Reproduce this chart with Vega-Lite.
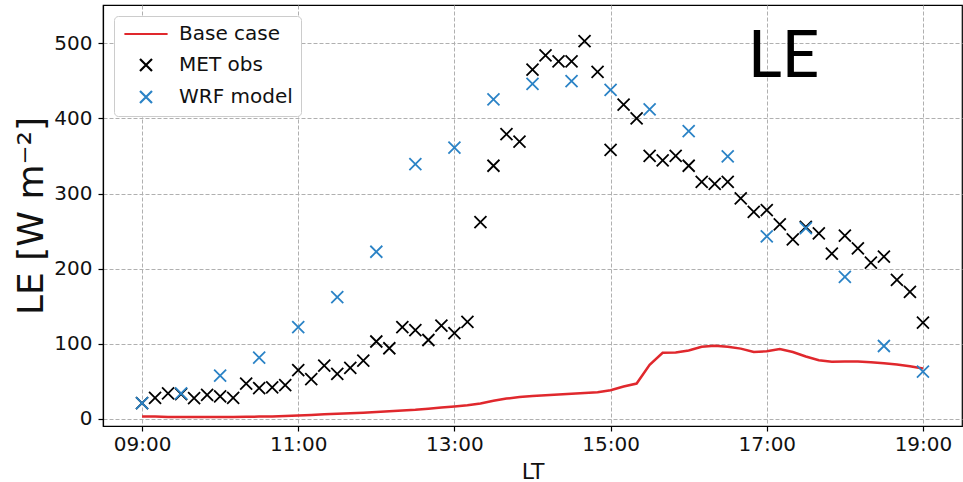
{
  "$schema": "https://vega.github.io/schema/vega-lite/v6.json",
  "width": 859,
  "height": 421,
  "autosize": {"type": "none"},
  "padding": {"left": 103, "top": 5, "right": 1, "bottom": 56},
  "background": "white",
  "config": {
    "font": "DejaVu Sans",
    "view": {"stroke": "black", "strokeWidth": 1.2},
    "axis": {
      "domainColor": "black",
      "domainWidth": 1.2,
      "tickColor": "black",
      "tickWidth": 1.2,
      "tickSize": 5,
      "labelColor": "#111111",
      "labelFontSize": 20,
      "labelFont": "DejaVu Sans",
      "gridColor": "#b0b0b0",
      "gridDash": [4, 2],
      "gridWidth": 1,
      "titleFont": "DejaVu Sans",
      "titleFontWeight": "normal",
      "titleColor": "#111111"
    },
    "legend": {
      "labelFont": "DejaVu Sans",
      "labelFontSize": 20,
      "labelColor": "#111111"
    }
  },
  "datasets": {
    "base": [
      {"time": "09:00", "value": 3, "series": "Base case"},
      {"time": "09:10", "value": 3, "series": "Base case"},
      {"time": "09:20", "value": 2.5, "series": "Base case"},
      {"time": "09:30", "value": 2.5, "series": "Base case"},
      {"time": "09:40", "value": 2.5, "series": "Base case"},
      {"time": "09:50", "value": 2.5, "series": "Base case"},
      {"time": "10:00", "value": 2.5, "series": "Base case"},
      {"time": "10:10", "value": 2.5, "series": "Base case"},
      {"time": "10:20", "value": 2.8, "series": "Base case"},
      {"time": "10:30", "value": 3, "series": "Base case"},
      {"time": "10:40", "value": 3.3, "series": "Base case"},
      {"time": "10:50", "value": 3.8, "series": "Base case"},
      {"time": "11:00", "value": 4.5, "series": "Base case"},
      {"time": "11:10", "value": 5.2, "series": "Base case"},
      {"time": "11:20", "value": 6, "series": "Base case"},
      {"time": "11:30", "value": 6.8, "series": "Base case"},
      {"time": "11:40", "value": 7.5, "series": "Base case"},
      {"time": "11:50", "value": 8.2, "series": "Base case"},
      {"time": "12:00", "value": 9, "series": "Base case"},
      {"time": "12:10", "value": 10, "series": "Base case"},
      {"time": "12:20", "value": 11, "series": "Base case"},
      {"time": "12:30", "value": 12, "series": "Base case"},
      {"time": "12:40", "value": 13.5, "series": "Base case"},
      {"time": "12:50", "value": 15, "series": "Base case"},
      {"time": "13:00", "value": 16.5, "series": "Base case"},
      {"time": "13:10", "value": 18, "series": "Base case"},
      {"time": "13:20", "value": 20.5, "series": "Base case"},
      {"time": "13:30", "value": 24, "series": "Base case"},
      {"time": "13:40", "value": 27, "series": "Base case"},
      {"time": "13:50", "value": 29, "series": "Base case"},
      {"time": "14:00", "value": 30.5, "series": "Base case"},
      {"time": "14:10", "value": 31.5, "series": "Base case"},
      {"time": "14:20", "value": 32.5, "series": "Base case"},
      {"time": "14:30", "value": 33.5, "series": "Base case"},
      {"time": "14:40", "value": 34.5, "series": "Base case"},
      {"time": "14:50", "value": 35.5, "series": "Base case"},
      {"time": "15:00", "value": 38, "series": "Base case"},
      {"time": "15:10", "value": 43, "series": "Base case"},
      {"time": "15:20", "value": 47, "series": "Base case"},
      {"time": "15:30", "value": 72, "series": "Base case"},
      {"time": "15:40", "value": 88, "series": "Base case"},
      {"time": "15:50", "value": 88.5, "series": "Base case"},
      {"time": "16:00", "value": 91, "series": "Base case"},
      {"time": "16:10", "value": 96, "series": "Base case"},
      {"time": "16:20", "value": 97.5, "series": "Base case"},
      {"time": "16:30", "value": 96, "series": "Base case"},
      {"time": "16:40", "value": 93.5, "series": "Base case"},
      {"time": "16:50", "value": 89, "series": "Base case"},
      {"time": "17:00", "value": 90, "series": "Base case"},
      {"time": "17:10", "value": 93, "series": "Base case"},
      {"time": "17:20", "value": 89, "series": "Base case"},
      {"time": "17:30", "value": 83, "series": "Base case"},
      {"time": "17:40", "value": 78, "series": "Base case"},
      {"time": "17:50", "value": 76, "series": "Base case"},
      {"time": "18:00", "value": 76.5, "series": "Base case"},
      {"time": "18:10", "value": 76.5, "series": "Base case"},
      {"time": "18:20", "value": 75.5, "series": "Base case"},
      {"time": "18:30", "value": 74, "series": "Base case"},
      {"time": "18:40", "value": 72.5, "series": "Base case"},
      {"time": "18:50", "value": 70, "series": "Base case"},
      {"time": "19:00", "value": 67, "series": "Base case"}
    ],
    "points": [
      {"time": "09:00", "value": 21, "series": "MET obs"},
      {"time": "09:10", "value": 28, "series": "MET obs"},
      {"time": "09:20", "value": 34, "series": "MET obs"},
      {"time": "09:30", "value": 33, "series": "MET obs"},
      {"time": "09:40", "value": 27.5, "series": "MET obs"},
      {"time": "09:50", "value": 32, "series": "MET obs"},
      {"time": "10:00", "value": 30, "series": "MET obs"},
      {"time": "10:10", "value": 28, "series": "MET obs"},
      {"time": "10:20", "value": 47, "series": "MET obs"},
      {"time": "10:30", "value": 41, "series": "MET obs"},
      {"time": "10:40", "value": 42, "series": "MET obs"},
      {"time": "10:50", "value": 45, "series": "MET obs"},
      {"time": "11:00", "value": 65, "series": "MET obs"},
      {"time": "11:10", "value": 53, "series": "MET obs"},
      {"time": "11:20", "value": 71, "series": "MET obs"},
      {"time": "11:30", "value": 60, "series": "MET obs"},
      {"time": "11:40", "value": 68, "series": "MET obs"},
      {"time": "11:50", "value": 77.5, "series": "MET obs"},
      {"time": "12:00", "value": 103, "series": "MET obs"},
      {"time": "12:10", "value": 94, "series": "MET obs"},
      {"time": "12:20", "value": 122, "series": "MET obs"},
      {"time": "12:30", "value": 118, "series": "MET obs"},
      {"time": "12:40", "value": 105, "series": "MET obs"},
      {"time": "12:50", "value": 124, "series": "MET obs"},
      {"time": "13:00", "value": 114, "series": "MET obs"},
      {"time": "13:10", "value": 129, "series": "MET obs"},
      {"time": "13:20", "value": 262, "series": "MET obs"},
      {"time": "13:30", "value": 337, "series": "MET obs"},
      {"time": "13:40", "value": 379, "series": "MET obs"},
      {"time": "13:50", "value": 369, "series": "MET obs"},
      {"time": "14:00", "value": 465, "series": "MET obs"},
      {"time": "14:10", "value": 484, "series": "MET obs"},
      {"time": "14:20", "value": 476, "series": "MET obs"},
      {"time": "14:30", "value": 476, "series": "MET obs"},
      {"time": "14:40", "value": 503, "series": "MET obs"},
      {"time": "14:50", "value": 462, "series": "MET obs"},
      {"time": "15:00", "value": 358, "series": "MET obs"},
      {"time": "15:10", "value": 418.5, "series": "MET obs"},
      {"time": "15:20", "value": 400, "series": "MET obs"},
      {"time": "15:30", "value": 350, "series": "MET obs"},
      {"time": "15:40", "value": 344, "series": "MET obs"},
      {"time": "15:50", "value": 350, "series": "MET obs"},
      {"time": "16:00", "value": 337, "series": "MET obs"},
      {"time": "16:10", "value": 315.5, "series": "MET obs"},
      {"time": "16:20", "value": 313, "series": "MET obs"},
      {"time": "16:30", "value": 315.5, "series": "MET obs"},
      {"time": "16:40", "value": 293.5, "series": "MET obs"},
      {"time": "16:50", "value": 275.5, "series": "MET obs"},
      {"time": "17:00", "value": 278, "series": "MET obs"},
      {"time": "17:10", "value": 259, "series": "MET obs"},
      {"time": "17:20", "value": 239, "series": "MET obs"},
      {"time": "17:30", "value": 255.5, "series": "MET obs"},
      {"time": "17:40", "value": 247, "series": "MET obs"},
      {"time": "17:50", "value": 220, "series": "MET obs"},
      {"time": "18:00", "value": 244, "series": "MET obs"},
      {"time": "18:10", "value": 227, "series": "MET obs"},
      {"time": "18:20", "value": 208, "series": "MET obs"},
      {"time": "18:30", "value": 216, "series": "MET obs"},
      {"time": "18:40", "value": 185, "series": "MET obs"},
      {"time": "18:50", "value": 169, "series": "MET obs"},
      {"time": "19:00", "value": 128, "series": "MET obs"},
      {"time": "09:00", "value": 21, "series": "WRF model"},
      {"time": "09:30", "value": 34, "series": "WRF model"},
      {"time": "10:00", "value": 57.5, "series": "WRF model"},
      {"time": "10:30", "value": 81.5, "series": "WRF model"},
      {"time": "11:00", "value": 122, "series": "WRF model"},
      {"time": "11:30", "value": 162, "series": "WRF model"},
      {"time": "12:00", "value": 222.5, "series": "WRF model"},
      {"time": "12:30", "value": 339, "series": "WRF model"},
      {"time": "13:00", "value": 361, "series": "WRF model"},
      {"time": "13:30", "value": 425.5, "series": "WRF model"},
      {"time": "14:00", "value": 446, "series": "WRF model"},
      {"time": "14:30", "value": 449.5, "series": "WRF model"},
      {"time": "15:00", "value": 438, "series": "WRF model"},
      {"time": "15:30", "value": 412, "series": "WRF model"},
      {"time": "16:00", "value": 383, "series": "WRF model"},
      {"time": "16:30", "value": 349.5, "series": "WRF model"},
      {"time": "17:00", "value": 243, "series": "WRF model"},
      {"time": "17:30", "value": 254, "series": "WRF model"},
      {"time": "18:00", "value": 189, "series": "WRF model"},
      {"time": "18:30", "value": 97, "series": "WRF model"},
      {"time": "19:00", "value": 63, "series": "WRF model"}
    ],
    "label": [
      {"time": "17:13", "value": 455, "text": "LE"}
    ]
  },
  "encoding": {
    "x": {
      "field": "time",
      "type": "temporal",
      "scale": {
        "domain": [
          {"year": 1900, "month": 1, "date": 1, "hours": 8, "minutes": 30},
          {"year": 1900, "month": 1, "date": 1, "hours": 19, "minutes": 30}
        ]
      },
      "axis": {
        "title": "LT",
        "titleFontSize": 22,
        "titleBaseline": "alphabetic",
        "titleY": 52,
        "format": "%H:%M",
        "labelPadding": 3,
        "labelFlush": false,
        "labelOverlap": false,
        "values": [
          {"year": 1900, "month": 1, "date": 1, "hours": 9},
          {"year": 1900, "month": 1, "date": 1, "hours": 11},
          {"year": 1900, "month": 1, "date": 1, "hours": 13},
          {"year": 1900, "month": 1, "date": 1, "hours": 15},
          {"year": 1900, "month": 1, "date": 1, "hours": 17},
          {"year": 1900, "month": 1, "date": 1, "hours": 19}
        ]
      }
    },
    "y": {
      "field": "value",
      "type": "quantitative",
      "scale": {"domain": [-9.5, 551], "nice": false, "zero": false},
      "axis": {
        "title": "LE [W m⁻²]",
        "titleFontSize": 36,
        "titleBaseline": "alphabetic",
        "titleX": -61,
        "values": [0, 100, 200, 300, 400, 500],
        "labelPadding": 6
      }
    }
  },
  "layer": [
    {
      "data": {"name": "base", "format": {"parse": {"time": "date:'%H:%M'"}}},
      "mark": {"type": "line", "strokeWidth": 2.5, "interpolate": "linear"},
      "encoding": {
        "color": {
          "field": "series",
          "type": "nominal",
          "scale": {"domain": ["Base case", "MET obs", "WRF model"], "range": ["#e0282d", "#000000", "#2b83c6"]},
          "legend": {
            "title": null,
            "orient": "none",
            "legendX": 11,
            "legendY": 11,
            "padding": 8,
            "fillColor": "white",
            "strokeColor": "#cccccc",
            "cornerRadius": 4,
            "symbolSize": 144,
            "symbolStrokeWidth": 2.2,
            "symbolOffset": 14,
            "labelOffset": 23,
            "rowPadding": 10
          }
        }
      }
    },
    {
      "data": {"name": "points", "format": {"parse": {"time": "date:'%H:%M'"}}},
      "mark": {"type": "point", "filled": false, "strokeWidth": 1.8, "size": 144, "opacity": 1},
      "encoding": {
        "color": {"field": "series", "type": "nominal"},
        "shape": {
          "field": "series",
          "type": "nominal",
          "scale": {"domain": ["Base case", "MET obs", "WRF model"], "range": ["M-3.6,0L3.6,0", "M-1,-1L1,1M-1,1L1,-1", "M-1,-1L1,1M-1,1L1,-1"]},
          "legend": {
            "title": null,
            "orient": "none",
            "legendX": 11,
            "legendY": 11,
            "padding": 8,
            "fillColor": "white",
            "strokeColor": "#cccccc",
            "cornerRadius": 4,
            "symbolSize": 144,
            "symbolStrokeWidth": 2.2,
            "symbolOffset": 14,
            "labelOffset": 23,
            "rowPadding": 10
          }
        }
      }
    },
    {
      "data": {"name": "label", "format": {"parse": {"time": "date:'%H:%M'"}}},
      "mark": {"type": "text", "font": "Lato", "fontSize": 66, "align": "center", "baseline": "alphabetic", "color": "black"},
      "encoding": {
        "text": {"field": "text"}
      }
    }
  ]
}
